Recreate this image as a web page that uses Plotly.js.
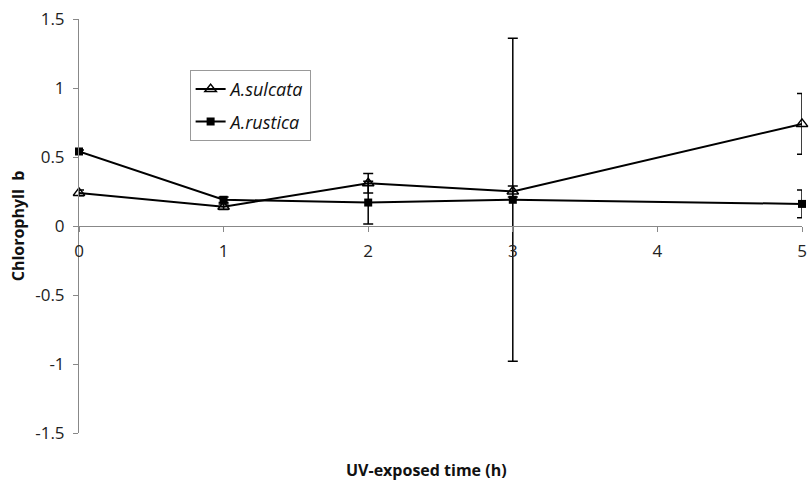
<!DOCTYPE html>
<html><head><meta charset="utf-8">
<script src="https://cdn.plot.ly/plotly-3.0.1.min.js"></script>
<style>html,body{margin:0;padding:0;background:#fff}#chart{width:810px;height:480px}</style>
</head><body><div id="chart"></div>
<script>
const times = [0, 1, 2, 3, 5];
const sulcataMean = [0.24, 0.14, 0.31, 0.25, 0.74];
const sulcataErr  = [0.02, 0.02, 0.07, 0.04, 0.22];
const rusticaMean = [0.54, 0.19, 0.17, 0.19, 0.16];
const rusticaErr  = [0.01, 0.02, 0.155, 1.17, 0.10];
const xTicks = [0, 1, 2, 3, 4, 5];
const yTicks = [-1.5, -1, -0.5, 0, 0.5, 1, 1.5];
const yTickText = ['-1.5', '-1', '-0.5', '0', '0.5', '1', '1.5'];

const fontFam = '"Open Sans", Lato, sans-serif';
const traces = [
  {x: times, y: sulcataMean, name: '<i>A.sulcata</i>', legendgroup: 'a', mode: 'lines+markers', type: 'scatter',
   cliponaxis: false,
   line: {color: '#000', width: 2},
   marker: {symbol: 'triangle-up-open', size: 10, color: '#000', line: {color: '#000', width: 1.5}},
   error_y: {type: 'data', array: sulcataErr, visible: true, color: '#000', thickness: 1.5, width: 5}},
  {x: times, y: rusticaMean, name: '<i>A.rustica</i>', legendgroup: 'b', mode: 'lines+markers', type: 'scatter',
   cliponaxis: false,
   line: {color: '#000', width: 2},
   marker: {symbol: 'square', size: 8, color: '#000'},
   error_y: {type: 'data', array: rusticaErr, visible: true, color: '#000', thickness: 1.5, width: 5}}
];
const layout = {
  width: 810, height: 480,
  margin: {l: 79, r: 8, t: 19, b: 47},
  paper_bgcolor: '#fff', plot_bgcolor: '#fff',
  font: {family: fontFam, color: '#222', size: 17},
  showlegend: true,
  legend: {x: 0.153, y: 0.877, xanchor: 'left', yanchor: 'top', bordercolor: '#999', borderwidth: 1,
           bgcolor: '#fff', font: {size: 18, color: '#111'}, tracegroupgap: 6},
  xaxis: {range: [0, 5], tickvals: xTicks, showgrid: false, zeroline: false,
          showline: true, linecolor: '#888', linewidth: 1, ticks: 'outside', ticklen: 5, tickcolor: '#888',
          anchor: 'free', position: 0.5, ticklabelstandoff: 5, tickfont: {size: 17, color: '#222'}},
  yaxis: {range: [-1.5, 1.5], tickvals: yTicks, ticktext: yTickText, showgrid: false, zeroline: false,
          showline: true, linecolor: '#888', linewidth: 1, ticks: 'outside', ticklen: 5, tickcolor: '#888',
          ticklabelstandoff: 5, tickfont: {size: 17, color: '#222'},
          title: {text: 'Chlorophyll  b', font: {size: 16, color: '#111', family: fontFam, weight: 'bold'}, standoff: 6}},
  annotations: [
    {text: 'UV-exposed time (h)', xref: 'paper', yref: 'paper', x: 0.48, y: 0, yshift: -37,
     xanchor: 'center', yanchor: 'middle', showarrow: false,
     font: {size: 16, color: '#111', family: fontFam, weight: 'bold'}}
  ]
};
Plotly.newPlot('chart', traces, layout, {displayModeBar: false, staticPlot: true});
</script></body></html>
